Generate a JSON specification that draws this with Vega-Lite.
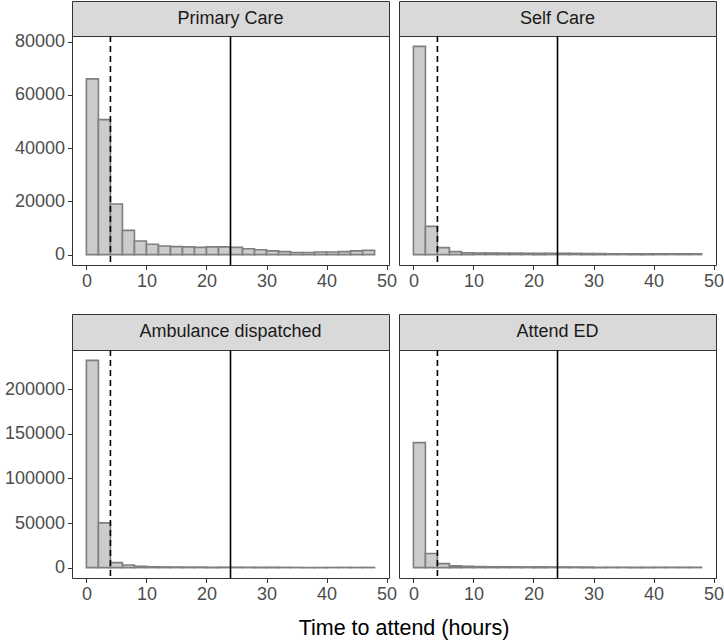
{
  "$schema": "https://vega.github.io/schema/vega-lite/v6.json",
  "padding": {"left": 3, "top": 0, "right": 4, "bottom": 4},
  "background": "white",
  "datasets": {
    "hist": [
      {"panel": "Primary Care", "start": 0, "end": 2, "count": 66000},
      {"panel": "Primary Care", "start": 2, "end": 4, "count": 50700},
      {"panel": "Primary Care", "start": 4, "end": 6, "count": 19000},
      {"panel": "Primary Care", "start": 6, "end": 8, "count": 9100},
      {"panel": "Primary Care", "start": 8, "end": 10, "count": 5100},
      {"panel": "Primary Care", "start": 10, "end": 12, "count": 3900},
      {"panel": "Primary Care", "start": 12, "end": 14, "count": 3200},
      {"panel": "Primary Care", "start": 14, "end": 16, "count": 3000},
      {"panel": "Primary Care", "start": 16, "end": 18, "count": 2900},
      {"panel": "Primary Care", "start": 18, "end": 20, "count": 2700},
      {"panel": "Primary Care", "start": 20, "end": 22, "count": 2900},
      {"panel": "Primary Care", "start": 22, "end": 24, "count": 2900},
      {"panel": "Primary Care", "start": 24, "end": 26, "count": 2700},
      {"panel": "Primary Care", "start": 26, "end": 28, "count": 2200},
      {"panel": "Primary Care", "start": 28, "end": 30, "count": 1800},
      {"panel": "Primary Care", "start": 30, "end": 32, "count": 1400},
      {"panel": "Primary Care", "start": 32, "end": 34, "count": 1100},
      {"panel": "Primary Care", "start": 34, "end": 36, "count": 800},
      {"panel": "Primary Care", "start": 36, "end": 38, "count": 800},
      {"panel": "Primary Care", "start": 38, "end": 40, "count": 1000},
      {"panel": "Primary Care", "start": 40, "end": 42, "count": 1000},
      {"panel": "Primary Care", "start": 42, "end": 44, "count": 1100},
      {"panel": "Primary Care", "start": 44, "end": 46, "count": 1400},
      {"panel": "Primary Care", "start": 46, "end": 48, "count": 1600},
      {"panel": "Self Care", "start": 0, "end": 2, "count": 78200},
      {"panel": "Self Care", "start": 2, "end": 4, "count": 10600},
      {"panel": "Self Care", "start": 4, "end": 6, "count": 2600},
      {"panel": "Self Care", "start": 6, "end": 8, "count": 1100},
      {"panel": "Self Care", "start": 8, "end": 10, "count": 700},
      {"panel": "Self Care", "start": 10, "end": 12, "count": 600},
      {"panel": "Self Care", "start": 12, "end": 14, "count": 600},
      {"panel": "Self Care", "start": 14, "end": 16, "count": 550},
      {"panel": "Self Care", "start": 16, "end": 18, "count": 550},
      {"panel": "Self Care", "start": 18, "end": 20, "count": 500},
      {"panel": "Self Care", "start": 20, "end": 22, "count": 500},
      {"panel": "Self Care", "start": 22, "end": 24, "count": 500},
      {"panel": "Self Care", "start": 24, "end": 26, "count": 500},
      {"panel": "Self Care", "start": 26, "end": 28, "count": 450},
      {"panel": "Self Care", "start": 28, "end": 30, "count": 400},
      {"panel": "Self Care", "start": 30, "end": 32, "count": 350},
      {"panel": "Self Care", "start": 32, "end": 34, "count": 300},
      {"panel": "Self Care", "start": 34, "end": 36, "count": 300},
      {"panel": "Self Care", "start": 36, "end": 38, "count": 300},
      {"panel": "Self Care", "start": 38, "end": 40, "count": 300},
      {"panel": "Self Care", "start": 40, "end": 42, "count": 300},
      {"panel": "Self Care", "start": 42, "end": 44, "count": 300},
      {"panel": "Self Care", "start": 44, "end": 46, "count": 300},
      {"panel": "Self Care", "start": 46, "end": 48, "count": 300},
      {"panel": "Ambulance dispatched", "start": 0, "end": 2, "count": 232300},
      {"panel": "Ambulance dispatched", "start": 2, "end": 4, "count": 50200},
      {"panel": "Ambulance dispatched", "start": 4, "end": 6, "count": 5600},
      {"panel": "Ambulance dispatched", "start": 6, "end": 8, "count": 2900},
      {"panel": "Ambulance dispatched", "start": 8, "end": 10, "count": 1500},
      {"panel": "Ambulance dispatched", "start": 10, "end": 12, "count": 1000},
      {"panel": "Ambulance dispatched", "start": 12, "end": 14, "count": 800},
      {"panel": "Ambulance dispatched", "start": 14, "end": 16, "count": 700},
      {"panel": "Ambulance dispatched", "start": 16, "end": 18, "count": 600},
      {"panel": "Ambulance dispatched", "start": 18, "end": 20, "count": 600},
      {"panel": "Ambulance dispatched", "start": 20, "end": 22, "count": 500},
      {"panel": "Ambulance dispatched", "start": 22, "end": 24, "count": 500},
      {"panel": "Ambulance dispatched", "start": 24, "end": 26, "count": 500},
      {"panel": "Ambulance dispatched", "start": 26, "end": 28, "count": 400},
      {"panel": "Ambulance dispatched", "start": 28, "end": 30, "count": 300},
      {"panel": "Ambulance dispatched", "start": 30, "end": 32, "count": 300},
      {"panel": "Ambulance dispatched", "start": 32, "end": 34, "count": 300},
      {"panel": "Ambulance dispatched", "start": 34, "end": 36, "count": 200},
      {"panel": "Ambulance dispatched", "start": 36, "end": 38, "count": 200},
      {"panel": "Ambulance dispatched", "start": 38, "end": 40, "count": 200},
      {"panel": "Ambulance dispatched", "start": 40, "end": 42, "count": 200},
      {"panel": "Ambulance dispatched", "start": 42, "end": 44, "count": 200},
      {"panel": "Ambulance dispatched", "start": 44, "end": 46, "count": 200},
      {"panel": "Ambulance dispatched", "start": 46, "end": 48, "count": 200},
      {"panel": "Attend ED", "start": 0, "end": 2, "count": 140100},
      {"panel": "Attend ED", "start": 2, "end": 4, "count": 15900},
      {"panel": "Attend ED", "start": 4, "end": 6, "count": 4500},
      {"panel": "Attend ED", "start": 6, "end": 8, "count": 2000},
      {"panel": "Attend ED", "start": 8, "end": 10, "count": 1500},
      {"panel": "Attend ED", "start": 10, "end": 12, "count": 1200},
      {"panel": "Attend ED", "start": 12, "end": 14, "count": 1000},
      {"panel": "Attend ED", "start": 14, "end": 16, "count": 1000},
      {"panel": "Attend ED", "start": 16, "end": 18, "count": 900},
      {"panel": "Attend ED", "start": 18, "end": 20, "count": 800},
      {"panel": "Attend ED", "start": 20, "end": 22, "count": 800},
      {"panel": "Attend ED", "start": 22, "end": 24, "count": 800},
      {"panel": "Attend ED", "start": 24, "end": 26, "count": 800},
      {"panel": "Attend ED", "start": 26, "end": 28, "count": 700},
      {"panel": "Attend ED", "start": 28, "end": 30, "count": 600},
      {"panel": "Attend ED", "start": 30, "end": 32, "count": 500},
      {"panel": "Attend ED", "start": 32, "end": 34, "count": 400},
      {"panel": "Attend ED", "start": 34, "end": 36, "count": 400},
      {"panel": "Attend ED", "start": 36, "end": 38, "count": 400},
      {"panel": "Attend ED", "start": 38, "end": 40, "count": 400},
      {"panel": "Attend ED", "start": 40, "end": 42, "count": 400},
      {"panel": "Attend ED", "start": 42, "end": 44, "count": 400},
      {"panel": "Attend ED", "start": 44, "end": 46, "count": 400},
      {"panel": "Attend ED", "start": 46, "end": 48, "count": 400}
    ],
    "vlines": [
      {"x": 4, "type": "dashed"},
      {"x": 24, "type": "solid"}
    ]
  },
  "title": {
    "text": "Time to attend (hours)",
    "orient": "bottom",
    "anchor": "middle",
    "fontSize": 21.5,
    "fontWeight": "normal",
    "color": "#000000",
    "offset": 14,
    "dx": 40
  },
  "spacing": 22,
  "vconcat": [
    {
      "spacing": 0,
      "hconcat": [
        {
          "spacing": 0,
          "bounds": "flush",
          "vconcat": [
            {
              "width": 317, "height": 35,
              "view": {"fill": "#D9D9D9", "stroke": "#333333", "strokeWidth": 1},
              "data": {"values": [{"panel": "Primary Care"}]},
              "mark": {"type": "text", "fontSize": 18, "color": "#1A1A1A", "baseline": "middle"},
              "encoding": {"text": {"field": "panel"}}
            },
            {
              "width": 317, "height": 229,
              "layer": [
                {
                  "data": {"name": "hist"},
                  "transform": [{"filter": "datum.panel === 'Primary Care'"}],
                  "mark": {"type": "bar", "fill": "#CCCCCC", "stroke": "#7F7F7F", "strokeWidth": 1.6},
                  "encoding": {
                    "x": {"field": "start", "type": "quantitative", "scale": {"domain": [-2.4, 50.4], "nice": false, "zero": false}, "axis": {"values": [0, 10, 20, 30, 40, 50], "title": null}},
                    "x2": {"field": "end"},
                    "y": {"field": "count", "type": "quantitative", "scale": {"domain": [-3910, 82110], "nice": false, "zero": false}, "axis": {"values": [0, 20000, 40000, 60000, 80000], "format": "d", "title": null}},
                    "y2": {"datum": 0}
                  }
                },
                {
                  "data": {"name": "vlines"},
                  "mark": {"type": "rule", "color": "#000000", "strokeWidth": 1.6},
                  "encoding": {
                    "x": {"field": "x", "type": "quantitative"},
                    "strokeDash": {"field": "type", "type": "nominal", "scale": {"domain": ["dashed", "solid"], "range": [[6, 4], [1, 0]]}, "legend": null}
                  }
                }
              ]
            }
          ]
        },
        {
          "spacing": 0,
          "bounds": "flush",
          "vconcat": [
            {
              "width": 317, "height": 35,
              "view": {"fill": "#D9D9D9", "stroke": "#333333", "strokeWidth": 1},
              "data": {"values": [{"panel": "Self Care"}]},
              "mark": {"type": "text", "fontSize": 18, "color": "#1A1A1A", "baseline": "middle"},
              "encoding": {"text": {"field": "panel"}}
            },
            {
              "width": 317, "height": 229,
              "layer": [
                {
                  "data": {"name": "hist"},
                  "transform": [{"filter": "datum.panel === 'Self Care'"}],
                  "mark": {"type": "bar", "fill": "#CCCCCC", "stroke": "#7F7F7F", "strokeWidth": 1.6},
                  "encoding": {
                    "x": {"field": "start", "type": "quantitative", "scale": {"domain": [-2.4, 50.4], "nice": false, "zero": false}, "axis": {"values": [0, 10, 20, 30, 40, 50], "title": null}},
                    "x2": {"field": "end"},
                    "y": {"field": "count", "type": "quantitative", "scale": {"domain": [-3910, 82110], "nice": false, "zero": false}, "axis": null},
                    "y2": {"datum": 0}
                  }
                },
                {
                  "data": {"name": "vlines"},
                  "mark": {"type": "rule", "color": "#000000", "strokeWidth": 1.6},
                  "encoding": {
                    "x": {"field": "x", "type": "quantitative"},
                    "strokeDash": {"field": "type", "type": "nominal", "scale": {"domain": ["dashed", "solid"], "range": [[6, 4], [1, 0]]}, "legend": null}
                  }
                }
              ]
            }
          ]
        }
      ]
    },
    {
      "spacing": 0,
      "hconcat": [
        {
          "spacing": 0,
          "bounds": "flush",
          "vconcat": [
            {
              "width": 317, "height": 36,
              "view": {"fill": "#D9D9D9", "stroke": "#333333", "strokeWidth": 1},
              "data": {"values": [{"panel": "Ambulance dispatched"}]},
              "mark": {"type": "text", "fontSize": 18, "color": "#1A1A1A", "baseline": "middle"},
              "encoding": {"text": {"field": "panel"}}
            },
            {
              "width": 317, "height": 228,
              "layer": [
                {
                  "data": {"name": "hist"},
                  "transform": [{"filter": "datum.panel === 'Ambulance dispatched'"}],
                  "mark": {"type": "bar", "fill": "#CCCCCC", "stroke": "#7F7F7F", "strokeWidth": 1.6},
                  "encoding": {
                    "x": {"field": "start", "type": "quantitative", "scale": {"domain": [-2.4, 50.4], "nice": false, "zero": false}, "axis": {"values": [0, 10, 20, 30, 40, 50], "title": null}},
                    "x2": {"field": "end"},
                    "y": {"field": "count", "type": "quantitative", "scale": {"domain": [-11615, 243915], "nice": false, "zero": false}, "axis": {"values": [0, 50000, 100000, 150000, 200000], "format": "d", "title": null}},
                    "y2": {"datum": 0}
                  }
                },
                {
                  "data": {"name": "vlines"},
                  "mark": {"type": "rule", "color": "#000000", "strokeWidth": 1.6},
                  "encoding": {
                    "x": {"field": "x", "type": "quantitative"},
                    "strokeDash": {"field": "type", "type": "nominal", "scale": {"domain": ["dashed", "solid"], "range": [[6, 4], [1, 0]]}, "legend": null}
                  }
                }
              ]
            }
          ]
        },
        {
          "spacing": 0,
          "bounds": "flush",
          "vconcat": [
            {
              "width": 317, "height": 36,
              "view": {"fill": "#D9D9D9", "stroke": "#333333", "strokeWidth": 1},
              "data": {"values": [{"panel": "Attend ED"}]},
              "mark": {"type": "text", "fontSize": 18, "color": "#1A1A1A", "baseline": "middle"},
              "encoding": {"text": {"field": "panel"}}
            },
            {
              "width": 317, "height": 228,
              "layer": [
                {
                  "data": {"name": "hist"},
                  "transform": [{"filter": "datum.panel === 'Attend ED'"}],
                  "mark": {"type": "bar", "fill": "#CCCCCC", "stroke": "#7F7F7F", "strokeWidth": 1.6},
                  "encoding": {
                    "x": {"field": "start", "type": "quantitative", "scale": {"domain": [-2.4, 50.4], "nice": false, "zero": false}, "axis": {"values": [0, 10, 20, 30, 40, 50], "title": null}},
                    "x2": {"field": "end"},
                    "y": {"field": "count", "type": "quantitative", "scale": {"domain": [-11615, 243915], "nice": false, "zero": false}, "axis": null},
                    "y2": {"datum": 0}
                  }
                },
                {
                  "data": {"name": "vlines"},
                  "mark": {"type": "rule", "color": "#000000", "strokeWidth": 1.6},
                  "encoding": {
                    "x": {"field": "x", "type": "quantitative"},
                    "strokeDash": {"field": "type", "type": "nominal", "scale": {"domain": ["dashed", "solid"], "range": [[6, 4], [1, 0]]}, "legend": null}
                  }
                }
              ]
            }
          ]
        }
      ]
    }
  ],
  "config": {
    "font": "Liberation Sans",
    "view": {"stroke": "#333333", "strokeWidth": 1},
    "axis": {
      "grid": false,
      "domain": false,
      "ticks": true,
      "tickColor": "#333333",
      "tickSize": 4.5,
      "tickWidth": 1,
      "labelColor": "#4D4D4D",
      "labelFontSize": 18,
      "labelPadding": 3,
      "labelFont": "Liberation Sans"
    }
  }
}
